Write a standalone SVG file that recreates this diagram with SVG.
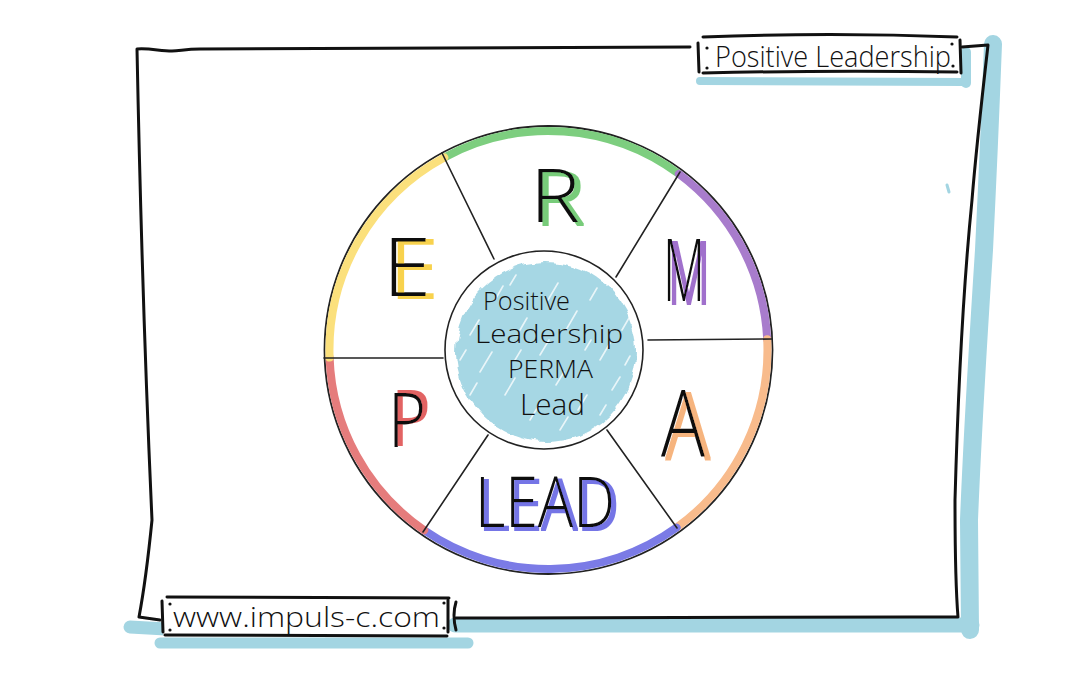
<svg xmlns="http://www.w3.org/2000/svg" width="1080" height="675" viewBox="0 0 1080 675">
<defs>
<style>
.ink{fill:none;stroke:#111;stroke-width:3;stroke-linecap:round;stroke-linejoin:round}
.thin{fill:none;stroke:#222;stroke-width:1.6;stroke-linecap:round}
.blue{fill:none;stroke:#a3d5e2;stroke-linecap:round;stroke-linejoin:round}
.arc{fill:none;stroke-width:8;stroke-linecap:round}
.hand{font-family:"Open Sans","Noto Sans","DejaVu Sans",sans-serif;font-weight:300;fill:#111}
.big{font-family:"Open Sans","Noto Sans","DejaVu Sans",sans-serif;font-weight:300;fill:#111}
.hatch{stroke:#fff;stroke-width:1.6;stroke-linecap:round;opacity:0.75}
.dot{fill:#111}
</style>
<filter id="rough" x="-20%" y="-20%" width="140%" height="140%">
<feTurbulence type="fractalNoise" baseFrequency="0.07" numOctaves="2" seed="3" result="n"/>
<feDisplacementMap in="SourceGraphic" in2="n" scale="8" xChannelSelector="R" yChannelSelector="G"/>
</filter>
<filter id="sh-green" x="-30%" y="-30%" width="160%" height="160%"><feMorphology in="SourceAlpha" operator="dilate" radius="1" result="d"/><feOffset in="d" dx="5" dy="3" result="o"/><feFlood flood-color="#78cc7a"/><feComposite in2="o" operator="in" result="s"/><feMerge><feMergeNode in="s"/><feMergeNode in="SourceGraphic"/></feMerge></filter>
<filter id="sh-yellow" x="-30%" y="-30%" width="160%" height="160%"><feMorphology in="SourceAlpha" operator="dilate" radius="1" result="d"/><feOffset in="d" dx="7" dy="2" result="o"/><feFlood flood-color="#f8d24e"/><feComposite in2="o" operator="in" result="s"/><feMerge><feMergeNode in="s"/><feMergeNode in="SourceGraphic"/></feMerge></filter>
<filter id="sh-purple" x="-30%" y="-30%" width="160%" height="160%"><feMorphology in="SourceAlpha" operator="dilate" radius="1" result="d"/><feOffset in="d" dx="5" dy="3" result="o"/><feFlood flood-color="#a070cc"/><feComposite in2="o" operator="in" result="s"/><feMerge><feMergeNode in="s"/><feMergeNode in="SourceGraphic"/></feMerge></filter>
<filter id="sh-red" x="-30%" y="-30%" width="160%" height="160%"><feMorphology in="SourceAlpha" operator="dilate" radius="1" result="d"/><feOffset in="d" dx="4" dy="-2" result="o"/><feFlood flood-color="#e26464"/><feComposite in2="o" operator="in" result="s"/><feMerge><feMergeNode in="s"/><feMergeNode in="SourceGraphic"/></feMerge></filter>
<filter id="sh-orange" x="-30%" y="-30%" width="160%" height="160%"><feMorphology in="SourceAlpha" operator="dilate" radius="1" result="d"/><feOffset in="d" dx="5" dy="3" result="o"/><feFlood flood-color="#f6b47e"/><feComposite in2="o" operator="in" result="s"/><feMerge><feMergeNode in="s"/><feMergeNode in="SourceGraphic"/></feMerge></filter>
<filter id="sh-violet" x="-30%" y="-30%" width="160%" height="160%"><feMorphology in="SourceAlpha" operator="dilate" radius="1" result="d"/><feOffset in="d" dx="4" dy="3" result="o"/><feFlood flood-color="#7474e6"/><feComposite in2="o" operator="in" result="s"/><feMerge><feMergeNode in="s"/><feMergeNode in="SourceGraphic"/></feMerge></filter>
<clipPath id="blobclip"><circle cx="546" cy="352" r="94"/></clipPath>
</defs>
<rect width="1080" height="675" fill="#fff"/>

<g id="frame">
<path class="blue" stroke-width="18" d="M993,44 Q989,150 984,250 Q973,420 969,520 L970,630"/>
<path class="blue" stroke-width="15" d="M455,625 L972,625"/>
<path class="blue" stroke-width="13" d="M130,627 L166,629"/>
<path class="blue" stroke-width="11" d="M160,643 L468,643"/>
<path class="blue" stroke-width="8" d="M700,81 L966,82"/>
<path class="blue" stroke-width="10" d="M966,52 L966,83"/>
<path class="blue" stroke-width="3" d="M947,185 L949,192"/>
<path class="ink" d="M690,47 L200,49 C185,49 180,51 172,51 C160,51 150,48 137,49 Q142,300 152,520 Q146,580 139,617 L160,620"/>
<path class="ink" d="M962,47 L988,45 Q976,150 972,200 Q960,320 955,500 Q955,580 958,617 Q940,617 910,617 L456,618"/>
</g>

<g id="label-title">
<rect x="699" y="37" width="261" height="35" fill="#fff"/>
<path class="ink" stroke-width="2.4" d="M703,37 Q830,32 957,37"/>
<path class="ink" stroke-width="2.4" d="M703,73 Q830,70 957,72"/>
<path class="ink" stroke-width="2.6" d="M698,43 L699,72"/>
<path class="ink" stroke-width="2.6" d="M960,40 L961,73"/>
<circle class="dot" cx="707" cy="48" r="1.6"/>
<circle class="dot" cx="707" cy="68" r="1.6"/>
<circle class="dot" cx="952" cy="44" r="1.6"/>
<circle class="dot" cx="953" cy="66" r="1.6"/>
<text class="hand" x="715" y="67" font-size="30" textLength="236" lengthAdjust="spacingAndGlyphs">Positive Leadership</text>
</g>

<g id="label-url">
<rect x="163" y="598" width="285" height="37" fill="#fff"/>
<path class="ink" stroke-width="2.4" d="M167,597 L449,598"/>
<path class="ink" stroke-width="2.4" d="M165,635 L447,636"/>
<path class="ink" stroke-width="4" d="M162,601 L163,632"/>
<path class="ink" stroke-width="2.6" d="M448,600 L448,632"/>
<path class="ink" stroke-width="2.4" d="M456,602 Q452,615 456,630"/>
<circle class="dot" cx="170" cy="604" r="1.6"/>
<circle class="dot" cx="170" cy="630" r="1.6"/>
<circle class="dot" cx="444" cy="603" r="1.6"/>
<circle class="dot" cx="444" cy="628" r="1.6"/>
<text class="hand" x="173" y="627" font-size="27" textLength="267" lengthAdjust="spacingAndGlyphs">www.impuls-c.com</text>
</g>

<g id="wheel">
<circle cx="548.5" cy="350" r="224" fill="none" stroke="#222" stroke-width="1.8"/>
<path class="arc" stroke="#7dce7f" d="M444.3,157.4 A219,219 0 0 1 678.8,173.9"/>
<path class="arc" stroke="#a87ccc" d="M678.8,173.9 A219,219 0 0 1 767.2,339.3"/>
<path class="arc" stroke="#f8bb8c" d="M767.2,339.3 A219,219 0 0 1 676.6,527.6"/>
<path class="arc" stroke="#7b7be6" d="M676.6,527.6 A219,219 0 0 1 424.2,530.3"/>
<path class="arc" stroke="#e57c7c" d="M424.2,530.3 A219,219 0 0 1 329.6,357.6"/>
<path class="arc" stroke="#fbe07c" d="M329.6,357.6 A219,219 0 0 1 444.3,157.4"/>
</g>

<g id="connectors">
<path class="thin" d="M442,153 L494,259"/>
<path class="thin" d="M680,172 L616,277"/>
<path class="thin" d="M772,339 L648,340"/>
<path class="thin" d="M677,528 L607,430"/>
<path class="thin" d="M423,532 L488,435"/>
<path class="thin" d="M324,358 L443,358"/>
</g>

<g id="center">
<circle cx="546" cy="352" r="90" fill="#a6d7e4" filter="url(#rough)"/>
<g clip-path="url(#blobclip)">
<path class="hatch" d="M470,335 l9,-15 M480,372 l12,-20 M495,300 l8,-14 M505,395 l10,-17 M520,330 l7,-12 M530,420 l9,-15 M548,300 l10,-17 M556,385 l8,-13 M566,330 l11,-19 M578,410 l9,-15 M590,300 l7,-12 M600,360 l10,-17 M612,390 l8,-13 M622,330 l7,-12 M470,395 l7,-12 M540,355 l9,-15 M585,350 l6,-10 M510,285 l6,-10 M560,430 l8,-13 M600,415 l6,-10 M460,360 l6,-10 M625,365 l5,-9 M515,360 l6,-10"/>
</g>
<circle cx="544" cy="350" r="99" fill="none" stroke="#222" stroke-width="1.6"/>
<text class="hand" x="483" y="310" font-size="26" font-weight="400" textLength="87" lengthAdjust="spacingAndGlyphs">Positive</text>
<text class="hand" x="475" y="343" font-size="26" font-weight="400" textLength="148" lengthAdjust="spacingAndGlyphs">Leadership</text>
<text class="hand" x="508" y="378" font-size="26" font-weight="400" textLength="85" lengthAdjust="spacingAndGlyphs">PERMA</text>
<text class="hand" x="520" y="415" font-size="30" font-weight="400" textLength="65" lengthAdjust="spacingAndGlyphs">Lead</text>
</g>

<g id="node-R"><text class="big" x="530" y="222" font-size="73" filter="url(#sh-green)" textLength="50" lengthAdjust="spacingAndGlyphs">R</text></g>
<g id="node-E"><text class="big" x="383" y="296" font-size="82" filter="url(#sh-yellow)" textLength="48" lengthAdjust="spacingAndGlyphs">E</text></g>
<g id="node-M"><text class="big" x="663" y="301" font-size="86" filter="url(#sh-purple)" textLength="42" lengthAdjust="spacingAndGlyphs">M</text></g>
<g id="node-P"><text class="big" x="388" y="447" font-size="76" filter="url(#sh-red)" textLength="38" lengthAdjust="spacingAndGlyphs">P</text></g>
<g id="node-A"><text class="big" x="661" y="456" font-size="92" filter="url(#sh-orange)" textLength="44" lengthAdjust="spacingAndGlyphs">A</text></g>
<g id="node-LEAD"><text class="big" x="475" y="527" font-size="70" filter="url(#sh-violet)" textLength="140" lengthAdjust="spacingAndGlyphs">LEAD</text></g>
</svg>
